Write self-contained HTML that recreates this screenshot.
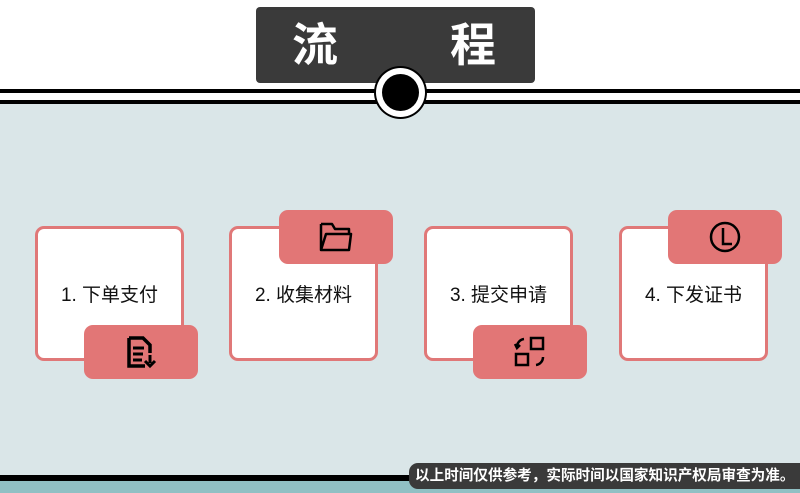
<!DOCTYPE html>
<html><head><meta charset="utf-8"><style>
body{margin:0;width:800px;height:493px;position:relative;overflow:hidden;background:#fff;font-family:"Liberation Sans","Noto Sans CJK SC",sans-serif}
div{position:absolute;box-sizing:border-box}
.card{width:149px;height:135px;background:#fff;border:3px solid #e07878;border-radius:9px;top:226px;display:flex;align-items:center;justify-content:center;font-size:19px;color:#111}
.badge{width:114px;height:54px;background:#e27676;border-radius:9px;display:flex;align-items:center;justify-content:center}
</style></head><body>
<div style="left:0;top:104px;width:800px;height:372px;background:#dae6e8"></div>
<div style="left:0;top:89px;width:800px;height:4px;background:#000"></div>
<div style="left:0;top:100px;width:800px;height:4px;background:#000"></div>
<div style="left:0;top:475px;width:800px;height:6px;background:#000"></div>
<div style="left:0;top:481px;width:800px;height:12px;background:#90c0c4"></div>
<div style="left:256px;top:7px;width:279px;height:76px;background:#3a3a3a;border-radius:4px;color:#fff;font-size:46px;font-weight:bold;line-height:76px"><span style="position:absolute;left:36px">流</span><span style="position:absolute;left:194px">程</span></div>
<div style="left:374px;top:66px;width:53px;height:53px;border-radius:50%;background:#000"></div>
<div style="left:376px;top:68px;width:49px;height:49px;border-radius:50%;background:#fff"></div>
<div style="left:382px;top:74px;width:37px;height:37px;border-radius:50%;background:#000"></div>

<div class="card" style="left:35px">1. 下单支付</div>
<div class="card" style="left:229px">2. 收集材料</div>
<div class="card" style="left:424px">3. 提交申请</div>
<div class="card" style="left:619px">4. 下发证书</div>

<div class="badge" style="left:84px;top:325px"><svg width="34" height="34" viewBox="0 0 34 34"><path d="M5 3h14l7 7v8M5 3v28h16" fill="none" stroke="#000" stroke-width="3.5"/><path d="M9 13h11M9 19h10M9 25h9" stroke="#000" stroke-width="3"/><path d="M26 20v8M21 26l5 5 5-5" fill="none" stroke="#000" stroke-width="3"/></svg></div>
<div class="badge" style="left:279px;top:210px"><svg width="36" height="32" viewBox="0 0 36 32"><path d="M3 3h11l3 5h14v5M3 3v26h28l2-16H8l-5 16" fill="none" stroke="#000" stroke-width="2.5" stroke-linejoin="round"/></svg></div>
<div class="badge" style="left:473px;top:325px"><svg width="34" height="32" viewBox="0 0 34 32"><rect x="18" y="2" width="12" height="11" fill="none" stroke="#000" stroke-width="2.5"/><rect x="3" y="18" width="12" height="11" fill="none" stroke="#000" stroke-width="2.5"/><path d="M11 3a8 8 0 0 0-7 8M2 8l2 4 3-3M23 29a8 8 0 0 0 7-8" fill="none" stroke="#000" stroke-width="2.5"/></svg></div>
<div class="badge" style="left:668px;top:210px"><svg width="34" height="34" viewBox="0 0 34 34"><circle cx="17" cy="17" r="14" fill="none" stroke="#000" stroke-width="2.5"/><path d="M15 8v16h9" fill="none" stroke="#000" stroke-width="2.5"/></svg></div>

<div style="left:409px;top:463px;width:400px;height:26px;background:#3a3a3a;border-radius:9px;color:#fff;font-size:14.6px;font-weight:bold;line-height:26px;padding-left:6px;white-space:nowrap">以上时间仅供参考，实际时间以国家知识产权局审查为准。</div>
</body></html>
